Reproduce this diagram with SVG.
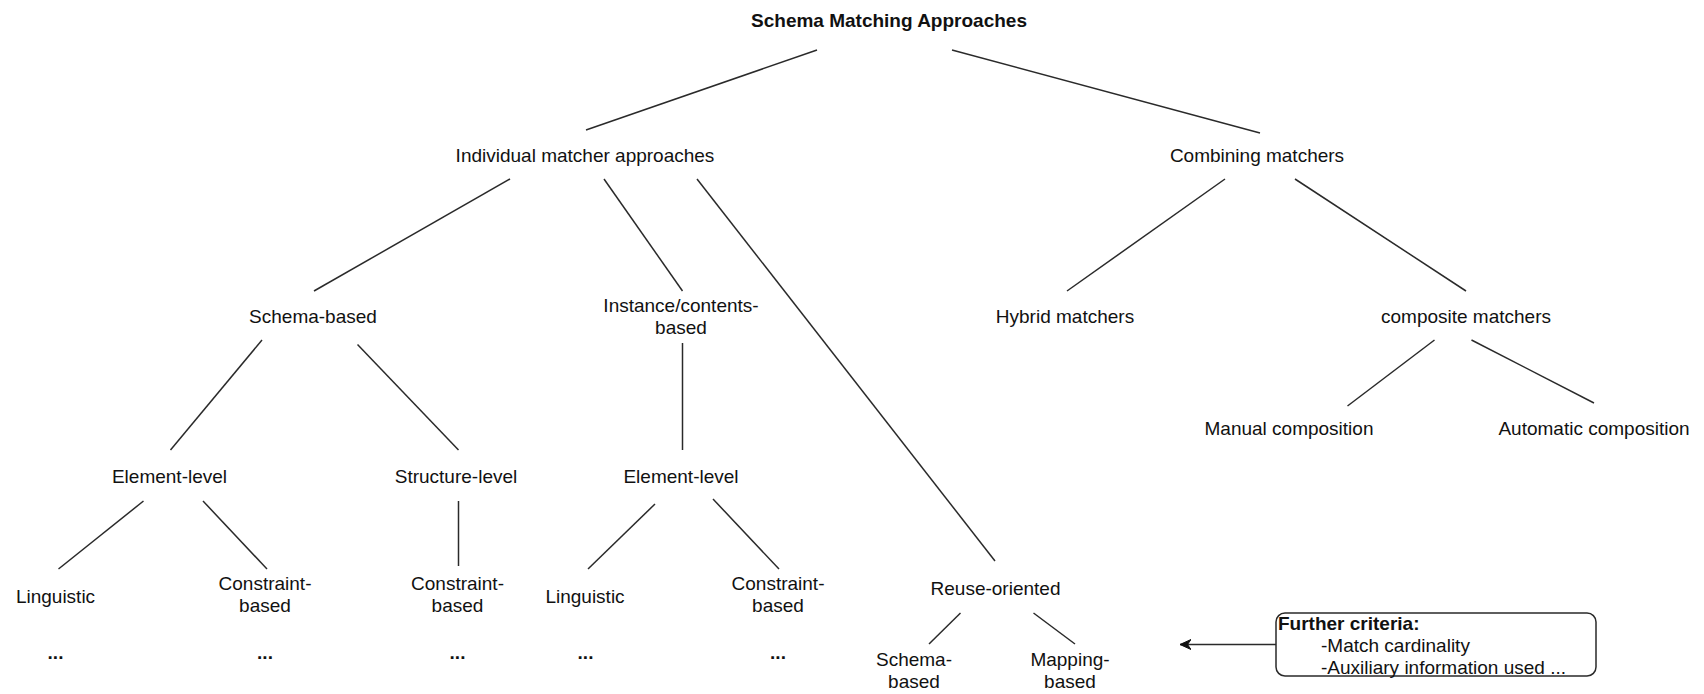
<svg xmlns="http://www.w3.org/2000/svg" width="1704" height="694" viewBox="0 0 1704 694">
  <style>
    text { font-family: "Liberation Sans", Arial, Helvetica, sans-serif; font-size: 19px; fill: #111; }
    .c { text-anchor: middle; }
    .b { font-weight: bold; }
    .edge { stroke: #2a2a2a; stroke-width: 1.5; fill: none; }
    .box { fill: #fff; stroke: #2a2a2a; stroke-width: 1.5; }
  </style>
  <defs>
    <!-- filled arrowhead, tip at the end of the line -->
    <marker id="arrow" viewBox="0 0 12 12" refX="11" refY="6" markerWidth="12" markerHeight="12" markerUnits="userSpaceOnUse" orient="auto">
      <path d="M0,1 L11,6 L0,11 L3.5,6 Z" fill="#111" stroke="#111" stroke-width="1" stroke-linejoin="miter"/>
    </marker>
  </defs>
  <rect width="1704" height="694" fill="#fff"/>

  <g id="connectors">
    <line class="edge" x1="817" y1="50" x2="586" y2="130"/>
    <line class="edge" x1="952" y1="50" x2="1260" y2="133"/>
    <line class="edge" x1="510" y1="179" x2="314" y2="291"/>
    <line class="edge" x1="604" y1="179" x2="682.5" y2="291"/>
    <line class="edge" x1="697" y1="179" x2="995" y2="561"/>
    <line class="edge" x1="1225" y1="179" x2="1067" y2="291"/>
    <line class="edge" x1="1295" y1="179" x2="1466" y2="291"/>
    <line class="edge" x1="1434.5" y1="340" x2="1347.5" y2="406"/>
    <line class="edge" x1="1471.5" y1="340" x2="1594" y2="403"/>
    <line class="edge" x1="262" y1="340" x2="170.5" y2="450"/>
    <line class="edge" x1="357.5" y1="344.5" x2="458.5" y2="450"/>
    <line class="edge" x1="682.5" y1="343" x2="682.5" y2="450"/>
    <line class="edge" x1="143.5" y1="501" x2="58.5" y2="569"/>
    <line class="edge" x1="203" y1="501" x2="267" y2="569"/>
    <line class="edge" x1="458.5" y1="501" x2="458.5" y2="566"/>
    <line class="edge" x1="655" y1="504" x2="588" y2="569"/>
    <line class="edge" x1="713" y1="499" x2="779" y2="569"/>
    <line class="edge" x1="960.5" y1="613" x2="929" y2="644"/>
    <line class="edge" x1="1033.5" y1="613" x2="1075" y2="644"/>
    <line class="edge" x1="1276" y1="644.5" x2="1180" y2="644.5" marker-end="url(#arrow)"/>
  </g>

  <g id="root"><text class="c b" x="889" y="26.5">Schema Matching Approaches</text></g>
  <g id="individual"><text class="c" x="585" y="162">Individual matcher approaches</text></g>
  <g id="combining"><text class="c" x="1257" y="162">Combining matchers</text></g>

  <g id="schema-based"><text class="c" x="313" y="323">Schema-based</text></g>
  <g id="instance-based">
    <text class="c" x="681" y="312">Instance/contents-</text>
    <text class="c" x="681" y="334">based</text>
  </g>
  <g id="hybrid"><text class="c" x="1065" y="323">Hybrid matchers</text></g>
  <g id="composite"><text class="c" x="1466" y="323">composite matchers</text></g>
  <g id="manual"><text class="c" x="1289" y="435">Manual composition</text></g>
  <g id="automatic"><text class="c" x="1594" y="435">Automatic composition</text></g>

  <g id="element-level-schema"><text class="c" x="169.5" y="483">Element-level</text></g>
  <g id="structure-level"><text class="c" x="456" y="483">Structure-level</text></g>
  <g id="element-level-instance"><text class="c" x="681" y="483">Element-level</text></g>

  <g id="linguistic-schema">
    <text class="c" x="55.5" y="602.5">Linguistic</text>
    <text class="c b" x="55.5" y="659">...</text>
  </g>
  <g id="constraint-element">
    <text class="c" x="265" y="589.5">Constraint-</text>
    <text class="c" x="265" y="612">based</text>
    <text class="c b" x="265" y="659">...</text>
  </g>
  <g id="constraint-structure">
    <text class="c" x="457.5" y="589.5">Constraint-</text>
    <text class="c" x="457.5" y="612">based</text>
    <text class="c b" x="457.5" y="659">...</text>
  </g>
  <g id="linguistic-instance">
    <text class="c" x="585" y="602.5">Linguistic</text>
    <text class="c b" x="585.5" y="659">...</text>
  </g>
  <g id="constraint-instance">
    <text class="c" x="778" y="589.5">Constraint-</text>
    <text class="c" x="778" y="612">based</text>
    <text class="c b" x="778" y="659">...</text>
  </g>

  <g id="reuse"><text class="c" x="995.5" y="595">Reuse-oriented</text></g>
  <g id="reuse-schema">
    <text class="c" x="914" y="665.5">Schema-</text>
    <text class="c" x="914" y="688">based</text>
  </g>
  <g id="reuse-mapping">
    <text class="c" x="1070" y="665.5">Mapping-</text>
    <text class="c" x="1070" y="688">based</text>
  </g>

  <g id="further-criteria">
    <rect class="box" x="1276" y="613" width="320" height="63" rx="9" ry="9"/>
    <text class="b" x="1278" y="630">Further criteria:</text>
    <text x="1321" y="651.5">-Match cardinality</text>
    <text x="1321" y="673.5">-Auxiliary information used ...</text>
  </g>
</svg>
